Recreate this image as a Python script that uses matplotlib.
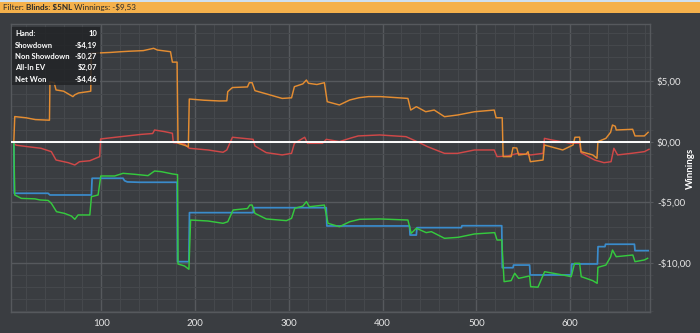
import matplotlib.pyplot as plt
from matplotlib.patches import Rectangle
from matplotlib.ticker import MultipleLocator, FuncFormatter

# --- data (hand number, cumulative $) ---
allin_hands = [7, 8, 20, 30, 45, 45.5, 50, 52, 60, 70, 72, 76, 86, 89, 89.5, 110, 121, 130, 145,
               156, 160, 174, 176, 181, 182, 190, 193, 194, 210, 226, 234, 235, 240, 256, 258,
               261, 264, 275, 293, 303, 306, 315, 318.8, 321, 330, 338, 341, 354, 365, 375,
               385, 398, 427, 430, 436, 446, 455, 466, 480, 498, 519, 521, 527.5, 528.5, 537,
               539, 543, 545, 553, 555, 557.5, 571, 572.5, 592, 603, 605, 610, 611.5, 624,
               628.5, 629.5, 638, 643, 645, 648, 649, 666.5, 669, 679, 683]
allin_vals = [0, 2.1, 2.0, 1.85, 1.8, 4.98, 4.9, 4.3, 4.2, 3.75, 3.9, 4.05, 4.16, 4.2, 7.33, 7.4,
              7.46, 7.5, 7.55, 7.74, 7.6, 7.46, 6.6, 6.6, -0.1, -0.3, -0.4, 3.55, 3.45, 3.39,
              3.4, 4.16, 4.5, 4.55, 4.9, 4.9, 4.24, 4.0, 3.6, 3.65, 4.57, 4.8, 5.12, 4.85, 4.75,
              4.9, 3.33, 3.06, 3.47, 3.66, 3.75, 3.75, 3.6, 2.64, 2.92, 2.5, 2.64, 2.09, 2.23,
              2.5, 2.64, 2.0, 2.0, -1.21, -1.21, -0.47, -0.5, -1.07, -1.0, -0.8, -1.63, -1.49,
              -0.25, -0.66, -0.25, 0.39, 0.4, -0.8, -1.07, -1.35, 0.03, 0.3, 0.8, 1.4, 1.3,
              0.99, 1.05, 0.5, 0.5, 0.8]

nonsd_hands = [7, 8, 10, 22, 36, 47, 52, 65, 72, 77, 88, 98.5, 99.5, 121, 143, 155, 157, 168,
               176, 177, 189, 194, 214, 230, 234, 240, 262, 264, 276, 293, 303, 306, 317, 320,
               336, 340, 354, 365, 374, 397, 425, 429, 439, 448, 466, 480, 498, 519, 522, 534,
               544, 558, 571, 572.5, 580, 601, 610, 611.5, 626, 636, 643.5, 646.5, 650.5, 665,
               679, 684]
nonsd_vals = [0, -0.2, -0.27, -0.39, -0.52, -0.8, -1.49, -1.71, -1.9, -1.63, -1.55, -1.21, 0.25,
              0.44, 0.63, 0.7, 0.99, 0.85, 0.72, -0.05, -0.17, -0.52, -0.66, -0.85, -0.66, 0.39,
              0.22, -0.33, -0.88, -1.07, -0.94, -0.11, 0.39, -0.11, -0.11, 0.22, 0.03, 0.3, 0.5,
              0.58, 0.44, 0.3, -0.05, -0.39, -0.94, -0.94, -0.66, -0.66, -1.21, -1.15, -0.94,
              -1.07, -0.94, 0.3, 0.17, -0.11, -0.1, -0.88, -1.49, -1.71, -1.63, -0.52, -1.07,
              -0.94, -0.8, -0.6]

sd_hands = [7, 7.5, 43.5, 45.5, 89.7, 90.4, 123.4, 125, 128, 141, 181, 181.5, 193.6, 194.2,
            262, 262.6, 340, 340.6, 428.7, 429.3, 436, 436.6, 484, 484.6, 527, 527.6, 539,
            539.6, 556.7, 557.3, 601, 601.6, 629, 629.6, 637, 637.6, 668.4, 669, 683]
sd_vals = [0, -4.24, -4.24, -4.38, -4.38, -3.0, -3.0, -3.2, -3.3, -3.33, -3.33, -9.89, -9.89,
           -5.84, -5.84, -5.43, -5.43, -6.94, -6.94, -7.69, -7.69, -7.08, -7.08, -6.92, -6.92,
           -10.39, -10.39, -10.17, -10.17, -10.99, -10.99, -10.08, -10.08, -8.65, -8.65, -8.45,
           -8.45, -8.98, -8.98]

net_hands = [7, 8, 15, 29.5, 34.8, 43.6, 47, 52.5, 61, 68.4, 72, 75.5, 88, 89.7, 96.8, 99.7,
             114.5, 123.4, 135.8, 150, 157, 164, 176, 181.5, 182, 189, 193.6, 195.4, 214, 230,
             235, 240.7, 256, 258.5, 261, 264, 276, 297.5, 303, 306.4, 315, 318.8, 322, 338,
             341.8, 354, 365, 375.5, 397, 427, 430.5, 436, 446.5, 452, 466, 480.5, 498, 519.5,
             522, 527, 529.5, 537, 540.8, 545, 556.7, 557.8, 565.6, 572.7, 592, 601, 604.6,
             610, 611.7, 624, 628.7, 629.5, 638, 643, 645, 649, 666.7, 669, 679, 682.5]
net_vals = [0, -4.38, -4.66, -4.7, -4.79, -4.83, -5.07, -5.76, -5.9, -6.12, -6.39, -6.03, -6.03,
            -4.52, -4.38, -2.81, -2.81, -2.59, -2.67, -2.78, -2.4, -2.45, -2.64, -2.7, -10.08,
            -10.25, -10.52, -6.45, -6.53, -6.72, -6.59, -5.62, -5.5, -5.21, -5.21, -5.9, -6.36,
            -6.5, -6.31, -5.48, -5.3, -4.93, -5.35, -5.21, -6.72, -7.0, -6.59, -6.39, -6.36,
            -6.45, -7.55, -7.13, -7.49, -7.41, -7.96, -7.88, -7.6, -7.49, -8.1, -8.1, -11.54,
            -11.46, -10.85, -11.27, -11.07, -11.96, -12.0, -10.72, -10.99, -11.13, -10.03,
            -10.03, -11.13, -11.46, -11.68, -10.36, -10.17, -9.5, -8.93, -9.48, -9.34, -9.89,
            -9.75, -9.61]

tip_labels = ["Hand:", "Showdown", "Non Showdown", "All-In EV", "Net Won"]
tip_values = ["10", "-\\$4,19", "-\\$0,27", "\\$2,07", "-\\$4,46"]

BG = "#3a3d41"
GRID_MAJOR = "#56595d"
GRID_MINOR = "#45484c"
TXT = "#e6e6e6"
FONT = ["Lato", "DejaVu Sans"]

W, H = 700, 333


def fx(px):
    return px / W


def fy(py):
    return 1 - py / H


fig = plt.figure(figsize=(7, 3.33), dpi=100, facecolor=BG)
ax = fig.add_axes([fx(11), fy(312), (650 - 11) / W, (312 - 24) / H], facecolor=BG)

ax.plot(nonsd_hands, nonsd_vals, color="#d04848", lw=1.05, zorder=3)
ax.plot(allin_hands, allin_vals, color="#e48d32", lw=1.05, zorder=3)
ax.plot(sd_hands, sd_vals, color="#3a8ccc", lw=1.25, zorder=4)
ax.plot(net_hands, net_vals, color="#35c93e", lw=1.05, zorder=5)
ax.axhline(0, color="white", lw=1.4, zorder=6)

ax.set_xlim(4, 685)
ax.set_ylim(-14.05, 9.75)

ax.xaxis.set_major_locator(MultipleLocator(100))
ax.xaxis.set_minor_locator(MultipleLocator(20))
ax.yaxis.set_major_locator(MultipleLocator(5))
ax.yaxis.set_minor_locator(MultipleLocator(1))


def money(v, pos):
    sign = "-" if v < 0 else ""
    return f"{sign}\\${abs(v):.2f}".replace(".", ",")


ax.yaxis.set_major_formatter(FuncFormatter(money))
ax.yaxis.tick_right()
ax.grid(which="major", color=GRID_MAJOR, lw=1.0, zorder=0)
ax.grid(which="minor", color=GRID_MINOR, lw=0.8, zorder=0)
ax.set_axisbelow(True)
ax.tick_params(axis="x", which="both", length=0, pad=5, labelsize=7, labelcolor=TXT)
ax.tick_params(axis="y", which="major", length=2, color=GRID_MAJOR, pad=3, labelsize=7,
               labelcolor=TXT)
ax.tick_params(axis="y", which="minor", length=2, color=GRID_MINOR)
for lab in ax.get_xticklabels() + ax.get_yticklabels():
    lab.set_family(FONT)
for s in ax.spines.values():
    s.set_color(GRID_MAJOR)
    s.set_linewidth(1.0)

fig.text(fx(690), fy(168), "Winnings", rotation=90, ha="center", va="center",
         color="white", fontsize=7, fontweight="bold", family=FONT)

# header bar
fig.patches.append(Rectangle((0, fy(13)), 1, 13 / H, transform=fig.transFigure,
                             facecolor="#f5b14b", edgecolor="none", zorder=1))
fig.patches.append(Rectangle((0, fy(1.5)), 1, 1.5 / H, transform=fig.transFigure,
                             facecolor="#cfe0f0", edgecolor="none", zorder=1))

renderer = fig.canvas.get_renderer()
x = fx(3)
for part, weight in [("Filter: ", "normal"), ("Blinds: \\$5NL", "bold"),
                     (" Winnings: -\\$9,53", "normal")]:
    t = fig.text(x, fy(7.5), part, ha="left", va="center", fontsize=5.9,
                 fontweight=weight, color="#2b2b2b", family=FONT, zorder=5)
    bb = t.get_window_extent(renderer)
    x += bb.width / W

# hover tooltip
fig.patches.append(Rectangle((fx(12), fy(85)), 88 / W, 58 / H, transform=fig.transFigure,
                             facecolor="#222427", alpha=0.85, edgecolor="none", zorder=2))
row_y = [34, 45.5, 56.5, 67.5, 79]
for lab, val, py in zip(tip_labels, tip_values, row_y):
    fig.text(fx(15), fy(py), lab, ha="left", va="center", fontsize=5.5, fontweight="bold",
             color="white", family=FONT, zorder=4)
    fig.text(fx(97), fy(py), val, ha="right", va="center", fontsize=5.5, fontweight="bold",
             color="white", family=FONT, zorder=4)

fig.savefig("out.png", dpi=100, facecolor=BG)
